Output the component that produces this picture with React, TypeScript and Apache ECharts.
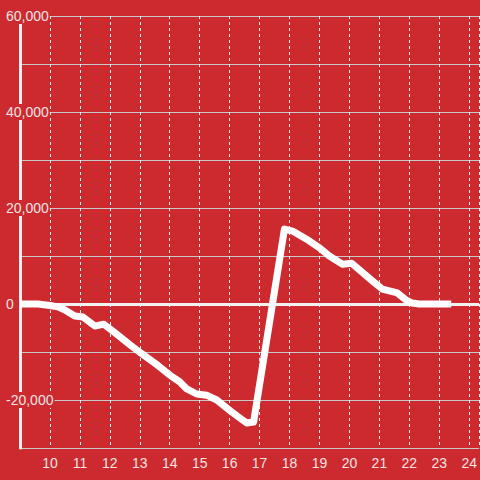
import React, { useEffect, useRef } from "react";
import * as echarts from "echarts";

const hours = [9, 9.6, 10, 10.27, 10.5, 10.83, 11.1, 11.5, 11.8, 12.17, 12.67, 13.03, 13.5, 14, 14.33, 14.57, 14.9, 15.23, 15.57, 16.07, 16.57, 16.8, 17.83, 18.1, 18.57, 19, 19.33, 19.77, 20.07, 20.77, 21.1, 21.6, 21.9, 22.1, 22.33, 23.4];
const values = [0, 0, -300, -600, -1250, -2500, -2700, -4600, -4200, -6000, -8500, -10200, -12300, -14800, -16200, -17700, -18750, -19000, -20000, -22500, -24800, -24600, 15600, 15200, 13500, 11700, 10000, 8300, 8500, 4800, 3100, 2300, 800, 200, 0, 0];

const BG = "#cc2a2f";
const TXT = "#f0e4e4";

export default function App() {
  const ref = useRef<HTMLDivElement>(null);
  useEffect(() => {
    document.body.style.margin = "0";
    const chart = echarts.init(ref.current!, null, { renderer: "svg" });
    chart.setOption({
      animation: false,
      backgroundColor: BG,
      textStyle: { fontFamily: "Liberation Sans, Arial, sans-serif" },
      grid: { left: 20, right: 0, top: 16, bottom: 32, containLabel: false },
      xAxis: {
        type: "value",
        min: 9,
        max: 24.333,
        interval: 1,
        axisLine: { show: false },
        axisTick: { show: false },
        axisLabel: { showMinLabel: false, color: TXT, fontSize: 14, margin: 8 },
        splitLine: { show: true, lineStyle: { color: "#f2f2f2", type: [3, 3], width: 1 } },
      },
      yAxis: {
        type: "value",
        min: -30000,
        max: 60000,
        interval: 10000,
        axisLine: { show: true, onZero: false, lineStyle: { color: "#f2f2f2", width: 3 } },
        axisTick: { show: false },
        axisLabel: {
          color: TXT,
          fontSize: 14,
          align: "left",
          margin: 15,
          backgroundColor: BG,
          padding: [1, 1, 1, 1],
          formatter: (v: number) => (v % 20000 === 0 ? v.toLocaleString("en-US") : ""),
        },
        splitLine: { show: true, lineStyle: { color: "#c8c8c8", width: 1 } },
      },
      series: [
        {
          type: "line",
          data: hours.map((h, i) => [h, values[i]]),
          showSymbol: false,
          symbol: "none",
          lineStyle: { color: "#ffffff", width: 7, join: "round", cap: "butt" },
          markLine: {
            silent: true,
            symbol: "none",
            label: { show: false },
            lineStyle: { color: "#f2f2f2", width: 3, type: "solid" },
            data: [{ yAxis: 0 }],
            z: 1,
          },
          z: 3,
        },
      ],
    });
    return () => chart.dispose();
  }, []);
  return <div ref={ref} style={{ width: 480, height: 480 }} />;
}
